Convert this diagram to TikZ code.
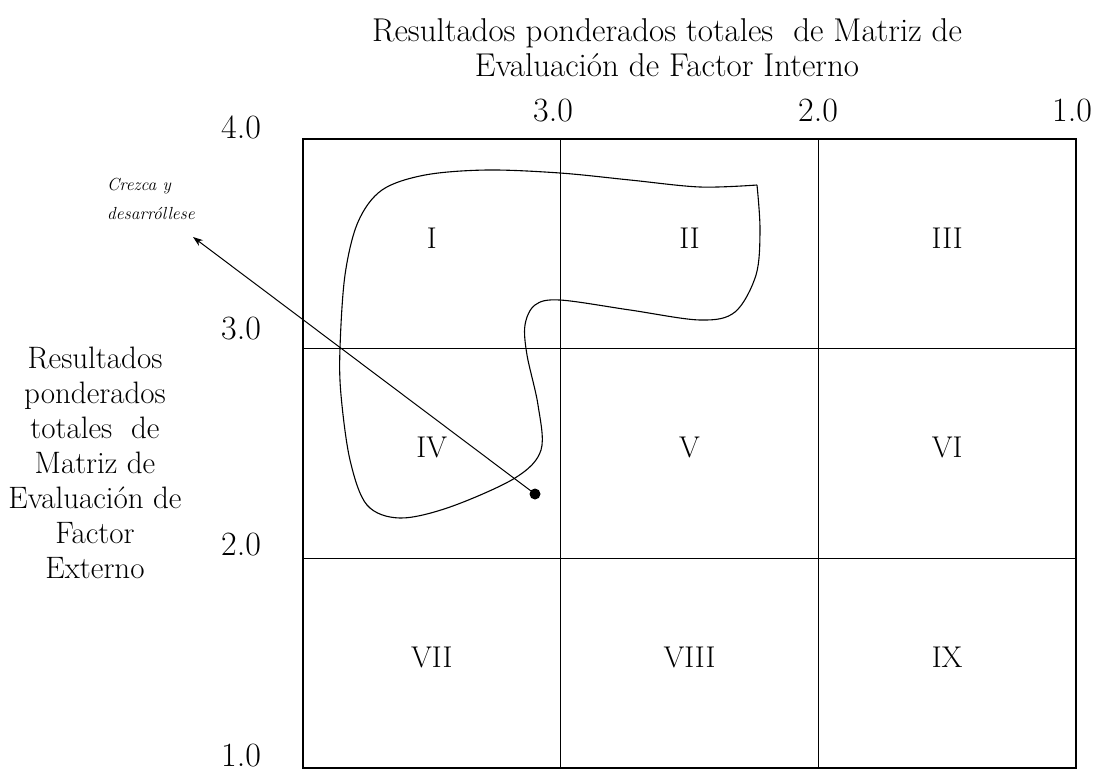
\documentclass[tikz,border=0pt]{standalone}
\usepackage{fontspec}
\usetikzlibrary{arrows.meta}
\begin{document}
\begin{tikzpicture}[x=1pt,y=-1pt,
  cell/.style={draw, line width=1.3pt, minimum width=257.7pt, minimum height=209.7pt, inner sep=0pt},
  num/.style={font=\fontsize{30}{32}\selectfont, inner sep=0pt},
  ax/.style={font=\fontsize{34}{36}\selectfont, inner sep=0pt},
  ttl/.style={font=\fontsize{33}{35}\selectfont, align=center, inner sep=0pt},
  side/.style={font=\fontsize{31}{35}\selectfont, align=center, inner sep=0pt},
  blob/.style={line width=1.1pt},
  arr/.style={line width=1pt, -{Stealth[length=10pt,width=7pt]}}]
\useasboundingbox (0,0) rectangle (1099,772);
% cells
\node[cell] (c11) at (431.8,243.8) {};
\node[cell] (c12) at (689.5,243.8) {};
\node[cell] (c13) at (947.2,243.8) {};
\node[cell] (c21) at (431.8,453.5) {};
\node[cell] (c22) at (689.5,453.5) {};
\node[cell] (c23) at (947.2,453.5) {};
\node[cell] (c31) at (431.8,663.2) {};
\node[cell] (c32) at (689.5,663.2) {};
\node[cell] (c33) at (947.2,663.2) {};
% numerals
\node[num] (n1) at ([yshift=6pt]c11.center) {I};
\node[num] (n2) at ([yshift=6pt]c12.center) {II};
\node[num] (n3) at ([yshift=6pt]c13.center) {III};
\node[num] (n4) at ([yshift=6pt]c21.center) {IV};
\node[num] (n5) at ([yshift=6pt]c22.center) {V};
\node[num] (n6) at ([yshift=6pt]c23.center) {VI};
\node[num] (n7) at ([yshift=6pt]c31.center) {VII};
\node[num] (n8) at ([yshift=6pt]c32.center) {VIII};
\node[num] (n9) at ([yshift=6pt]c33.center) {IX};
% axis values
\node[ax] (y4) at (241,127) {4.0};
\node[ax] (y3) at (241,329) {3.0};
\node[ax] (y2) at (241,545) {2.0};
\node[ax] (y1) at (241,756) {1.0};
\node[ax] (x3) at (553,111) {3.0};
\node[ax] (x2) at (818,111) {2.0};
\node[ax] (x1) at (1072,111) {1.0};
% titles
\node[ttl] (top) at (667,48) {Resultados ponderados totales\ \ de Matriz de\\Evaluación de Factor Interno};
\node[side] (left) at (95,463) {Resultados\\ponderados\\totales\ \ de\\Matriz de\\Evaluación de\\Factor\\Externo};
% blob
\draw[blob] plot[smooth, tension=0.55] coordinates {(757,185) (760,230) (756,275) (735,312) (700,320) (630,310) (560,300) (535,305) (525,325) (527,355) (538,405) (541,450) (515,478) (450,507) (400,518) (367,505) (350,460) (341,395) (340,348) (345,275) (358,222) (382,190) (425,175) (487,170) (560,173) (630,180) (700,187) (757,185)};
% arrow
\node[circle, fill, inner sep=0pt, minimum size=11pt] (dot) at (535,494) {};
\coordinate (tip) at (193,237);
\draw[arr] (dot.center) -- (tip);
\node[anchor=base west, align=left, inner sep=0pt, font=\itshape\fontsize{17.5}{29}\selectfont] (cy) at (107,219) {Crezca y\\desarróllese};
\end{tikzpicture}
\end{document}
